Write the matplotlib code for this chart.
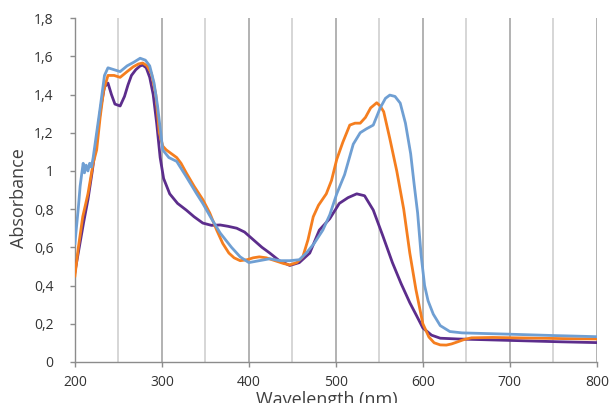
import matplotlib.pyplot as plt
from matplotlib.ticker import FuncFormatter

# blue curve
wl_b = [200, 204, 206, 208, 209.5, 211, 213, 215, 217, 219, 221, 225, 229, 234, 238, 245, 252, 260, 268, 275, 281,
        286, 291, 295, 301, 308, 317, 328, 340, 347, 357, 367, 380, 390, 400, 412, 424, 436, 447, 458, 466, 475,
        485, 493, 501, 510, 520, 528, 535, 543, 551, 557, 562, 568, 574, 580, 586, 590, 594, 598, 602, 606, 612,
        620, 631, 645, 660, 700, 750, 800]
abs_b = [0.62, 0.81, 0.92, 0.99, 1.04, 0.99, 1.03, 1.00, 1.04, 1.02, 1.07, 1.20, 1.33, 1.50, 1.54, 1.53, 1.52, 1.55,
         1.57, 1.59, 1.58, 1.55, 1.46, 1.34, 1.11, 1.07, 1.05, 0.97, 0.88, 0.83, 0.75, 0.675, 0.60, 0.55, 0.52,
         0.53, 0.54, 0.53, 0.53, 0.535, 0.57, 0.62, 0.69, 0.77, 0.88, 0.98, 1.14, 1.20, 1.22, 1.24, 1.33, 1.38,
         1.397, 1.39, 1.355, 1.25, 1.09, 0.93, 0.78, 0.56, 0.40, 0.32, 0.25, 0.19, 0.159, 0.152, 0.15, 0.145,
         0.138, 0.132]

# orange curve
wl_o = [200, 204, 209, 215, 221, 225, 229, 233, 238, 245, 252, 260, 267, 273, 278, 283, 288, 293, 297, 301, 305,
        311, 317, 322, 328, 337, 347, 355, 363, 370, 377, 383, 390, 398, 405, 412, 420, 430, 440, 447, 455, 462,
        468, 474, 480, 489, 495, 501, 508, 516, 522, 528, 534, 540, 547, 551, 555, 562, 570, 578, 585, 592, 600,
        607, 613, 620, 627, 633, 640, 648, 656, 680, 720, 760, 800]
abs_o = [0.45, 0.60, 0.76, 0.88, 1.04, 1.11, 1.28, 1.42, 1.50, 1.50, 1.49, 1.52, 1.545, 1.56, 1.565, 1.55, 1.51,
         1.40, 1.20, 1.13, 1.11, 1.09, 1.07, 1.04, 0.99, 0.92, 0.85, 0.78, 0.69, 0.62, 0.57, 0.545, 0.53, 0.535,
         0.545, 0.55, 0.545, 0.53, 0.515, 0.508, 0.52, 0.55, 0.64, 0.76, 0.82, 0.88, 0.95, 1.06, 1.15, 1.24, 1.25,
         1.25, 1.28, 1.33, 1.357, 1.34, 1.31, 1.17, 1.00, 0.80, 0.57, 0.38, 0.20, 0.13, 0.10, 0.089, 0.088, 0.094,
         0.105, 0.118, 0.126, 0.128, 0.125, 0.122, 0.12]

# purple curve
wl_p = [200, 205, 210, 215, 220, 225, 230, 234, 238, 242, 246, 252, 257, 261, 265, 270, 275, 278, 282, 286, 290,
        294, 298, 302, 309, 318, 328, 337, 347, 357, 367, 376, 386, 395, 405, 415, 424, 435, 447, 458, 470, 481,
        493, 504, 514, 524, 533, 543, 554, 565, 575, 585, 593, 600, 610, 620, 640, 680, 720, 760, 800]
abs_p = [0.47, 0.60, 0.73, 0.85, 1.00, 1.17, 1.34, 1.44, 1.46, 1.40, 1.35, 1.34, 1.39, 1.45, 1.50, 1.53, 1.55,
         1.554, 1.54, 1.49, 1.40, 1.25, 1.07, 0.96, 0.88, 0.83, 0.795, 0.76, 0.727, 0.715, 0.717, 0.71, 0.70, 0.68,
         0.64, 0.60, 0.57, 0.53, 0.505, 0.52, 0.57, 0.69, 0.75, 0.83, 0.86, 0.88, 0.87, 0.795, 0.66, 0.52, 0.41,
         0.31, 0.24, 0.178, 0.14, 0.124, 0.12, 0.115, 0.11, 0.105, 0.101]

x_ticks = [200, 300, 400, 500, 600, 700, 800]
y_ticks = [0, 0.2, 0.4, 0.6, 0.8, 1.0, 1.2, 1.4, 1.6, 1.8]

plt.rcParams['font.family'] = ['Open Sans', 'DejaVu Sans']

fig = plt.figure(figsize=(6.14, 4.03), dpi=100)
ax = fig.add_axes([0.122, 0.102, 0.850, 0.853])

# vertical grid lines every 50 nm
for g in range(250, 801, 50):
    c = '#a6a6a6' if g % 100 == 0 else '#cfcfcf'
    ax.axvline(g, color=c, lw=1.2, zorder=0)

ax.plot(wl_p, abs_p, color='#5c2d8c', lw=2.0, zorder=3)
ax.plot(wl_o, abs_o, color='#f57e1f', lw=2.0, zorder=4)
ax.plot(wl_b, abs_b, color='#6f9fd3', lw=2.0, zorder=5)

ax.set_xlim(200, 800)
ax.set_ylim(0, 1.8)
ax.set_xticks(x_ticks)
ax.set_yticks(y_ticks)
ax.yaxis.set_major_formatter(FuncFormatter(lambda v, p: ('%g' % round(v, 1)).replace('.', ',')))

for s in ['top', 'right']:
    ax.spines[s].set_visible(False)
for s in ['left', 'bottom']:
    ax.spines[s].set_color('#8c8c8c')
    ax.spines[s].set_linewidth(1.0)
ax.tick_params(colors='#8c8c8c', labelcolor='#333333', labelsize=10, length=3.5, width=1.0)
ax.tick_params(axis='y', pad=12)
ax.tick_params(axis='x', pad=6)

fig.text(0.031, 0.509, 'Absorbance', rotation=90, ha='center', va='center', fontsize=13, color='#404040')
fig.text(0.532, -0.006, 'Wavelength (nm)', ha='center', va='baseline', fontsize=13, color='#404040')

fig.savefig('out.png', dpi=100)
